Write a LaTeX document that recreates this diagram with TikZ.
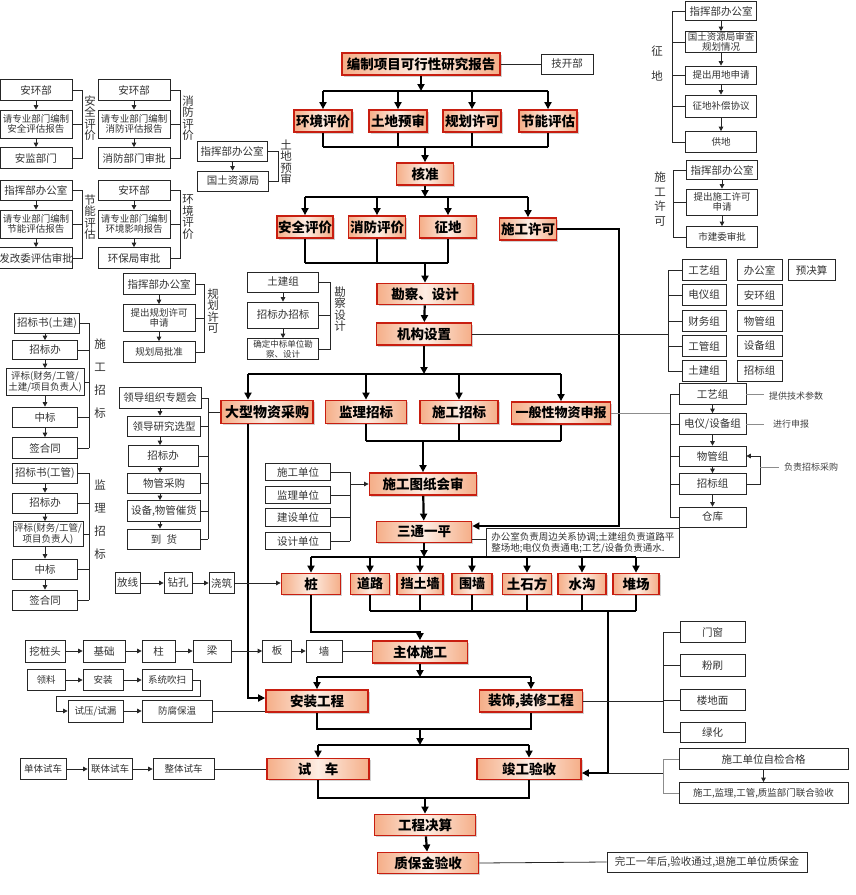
\documentclass[tikz,border=0pt]{standalone}
\usepackage{fontspec}
\setmainfont{Noto Sans CJK SC}
\usetikzlibrary{arrows.meta,shadows,calc}
\definecolor{rb}{HTML}{C81E10}
\definecolor{pkA}{HTML}{F5AE88}
\definecolor{pkB}{HTML}{FDEDE3}
\begin{document}
\begin{tikzpicture}[x=1pt,y=-1pt,
 wh/.style 2 args={minimum width=#1pt, minimum height=#2pt},
 mainbox/.style={draw=rb, line width=1.8pt, left color=pkA, right color=pkA, middle color=pkB,
   drop shadow={shadow xshift=1.5pt, shadow yshift=-1.5pt, fill=black!35},
   font=\bfseries\fontsize{13.5}{13.5}\selectfont, inner sep=0pt},
 sbox/.style={draw=black!85, line width=0.7pt, fill=white, font=\fontsize{10.5}{12}\selectfont, text=black!80, inner sep=0pt, align=center},
 tiny/.style={font=\fontsize{9.5}{10.5}\selectfont},
 tl/.style={line width=2.2pt, black},
 ta/.style={tl, -{Triangle[length=7pt,width=7pt]}},
 nl/.style={line width=0.8pt, black!85},
 na/.style={nl, -{Triangle[length=4.5pt,width=4.5pt]}},
 gl/.style={line width=0.8pt, black!45},
 vlab/.style={font=\fontsize{11.5}{11.5}\selectfont, text=black!80, align=center, inner sep=0pt},
 lab/.style={font=\fontsize{9}{10}\selectfont, text=black!75, inner sep=0pt}]
\fill[white] (0,0) rectangle (855,895);
\useasboundingbox (0,0) rectangle (855,895);

% ---------------- main column ----------------
\node[mainbox,wh={158}{22}] (kyb) at (421,64) {编制项目可行性研究报告};
\node[sbox,wh={52}{20}] (jkb) at (567,64) {技开部};
\node[mainbox,wh={58}{22}] (hjpj) at (323,121) {环境评价};
\node[mainbox,wh={58}{22}] (tdys) at (398,121) {土地预审};
\node[mainbox,wh={58}{22}] (ghxk) at (472,121) {规划许可};
\node[mainbox,wh={58}{22}] (jnpg) at (548,121) {节能评估};
\node[mainbox,wh={57}{22}] (hz) at (425,174) {核准};
\node[mainbox,wh={56}{22}] (aqpj) at (305,227) {安全评价};
\node[mainbox,wh={57}{22}] (xfpj) at (377,227) {消防评价};
\node[mainbox,wh={57}{22}] (zd) at (448,227) {征地};
\node[mainbox,wh={57}{22}] (sgxk) at (528,229) {施工许可};
\node[mainbox,wh={96}{21}] (kcsj) at (425,294) {勘察、设计};
\node[mainbox,wh={95}{22}] (jgsz) at (424,334) {机构设置};
\node[mainbox,wh={92}{23},font=\bfseries\fontsize{14}{14}\selectfont] (dxwz) at (267,412) {大型物资采购};
\node[mainbox,wh={81}{23}] (jlzb) at (366,412) {监理招标};
\node[mainbox,wh={78}{23}] (sgzb) at (459,412) {施工招标};
\node[mainbox,wh={99}{22},font=\bfseries\fontsize{13}{13}\selectfont] (ybwz) at (561,413) {一般性物资申报};
\node[mainbox,wh={107}{22}] (sgtz) at (423,484) {施工图纸会审};
\node[mainbox,wh={95}{21}] (stp) at (424,532) {三通一平};
\node[mainbox,wh={59}{21}] (zhuang) at (311,584) {桩};
\node[mainbox,wh={39}{21},font=\bfseries\fontsize{13}{13}\selectfont] (dl) at (370,584) {道路};
\node[mainbox,wh={46}{21},font=\bfseries\fontsize{13}{13}\selectfont] (dtq) at (420,584) {挡土墙};
\node[mainbox,wh={40}{21},font=\bfseries\fontsize{13}{13}\selectfont] (wq) at (472,584) {围墙};
\node[mainbox,wh={49}{21}] (tsf) at (527,584) {土石方};
\node[mainbox,wh={48}{21}] (sg) at (582,584) {水沟};
\node[mainbox,wh={46}{21}] (dc) at (636,584) {堆场};
\node[mainbox,wh={95}{22}] (ztsg) at (420,652) {主体施工};
\node[mainbox,wh={102}{22}] (azgc) at (317,701) {安装工程};
\node[mainbox,wh={103}{22}] (zsgc) at (531,701) {装饰,装修工程};
\node[mainbox,wh={102}{21}] (sc) at (318,769) {试\quad 车};
\node[mainbox,wh={104}{21}] (jgys) at (529,769) {竣工验收};
\node[mainbox,wh={101}{21}] (gcjs) at (425,825) {工程决算};
\node[mainbox,wh={101}{21}] (zbj) at (428,863) {质保金验收};
\node[sbox,wh={200}{20}] (wg) at (707,862) {完工一年后,验收通过,退施工单位质保金};
\node[sbox,tiny,wh={193}{29},align=left,anchor=west] (note) at (486,543) {办公室负责周边关系协调;土建组负责道路平\\整场地;电仪负责通电;工艺/设备负责通水.};

% ---------------- main connectors ----------------
\coordinate (bA) at (0,91);
\coordinate (bB) at (0,147);
\coordinate (bC) at (0,197);
\coordinate (bD) at (0,263);
\coordinate (bE) at (0,374);
\coordinate (bF) at (0,441);
\coordinate (bG) at (0,557);
\coordinate (bH) at (0,611);
\coordinate (bI) at (0,632);
\coordinate (bJ) at (0,677);
\coordinate (bK) at (0,729);
\coordinate (bL) at (0,745);
\coordinate (bM) at (0,798);
\draw[nl] (kyb.east) -- (jkb.west);
\draw[ta] (kyb.south) -- (kyb.south |- bA);
\draw[tl] (hjpj.north |- bA) -- (jnpg.north |- bA);
\foreach \n in {hjpj,tdys,ghxk,jnpg} {\draw[ta] (\n.north |- bA) -- (\n.north); \draw[tl] (\n.south) -- (\n.south |- bB);}
\draw[tl] (hjpj.south |- bB) -- (jnpg.south |- bB);
\draw[ta] (hz.north |- bB) -- (hz.north);
\draw[ta] (hz.south) -- (hz.south |- bC);
\draw[tl] (aqpj.north |- bC) -- (sgxk.north |- bC);
\foreach \n in {aqpj,xfpj,zd,sgxk} \draw[ta] (\n.north |- bC) -- (\n.north);
\foreach \n in {aqpj,xfpj,zd} \draw[tl] (\n.south) -- (\n.south |- bD);
\draw[tl] (aqpj.south |- bD) -- (zd.south |- bD);
\draw[ta] (kcsj.north |- bD) -- (kcsj.north);
\coordinate (c526) at (619,526);
\draw[ta] (sgxk.east) -- (sgxk.east -| c526) -- (c526) -- (c526 -| stp.east);
\draw[ta] (kcsj) -- (jgsz);
\coordinate (dxa) at (248,374);
\draw[ta] (jgsz.south) -- (jgsz.south |- bE);
\draw[tl] (dxa) -- (ybwz.north |- bE);
\draw[ta] (dxa) -- (dxa |- dxwz.north);
\foreach \n in {jlzb,sgzb,ybwz} \draw[ta] (\n.north |- bE) -- (\n.north);
\foreach \n in {jlzb,sgzb,ybwz} \draw[tl] (\n.south) -- (\n.south |- bF);
\draw[tl] (jlzb.south |- bF) -- (ybwz.south |- bF);
\draw[ta] (sgtz.north |- bF) -- (sgtz.north);
\draw[ta] (sgtz) -- (stp);
\coordinate (c539) at (0,539);
\draw[nl] (c539 -| stp.east) -- (c539 -| note.west);
\draw[ta] (stp.south) -- (stp.south |- bG);
\draw[tl] (zhuang.north |- bG) -- (dc.north |- bG);
\foreach \n in {zhuang,dl,dtq,wq,tsf,sg,dc} \draw[ta] (\n.north |- bG) -- (\n.north);
\foreach \n in {dl,dtq,wq,tsf,sg,dc} \draw[tl] (\n.south) -- (\n.south |- bH);
\draw[tl] (dl.south |- bH) -- (dc.south |- bH);
\coordinate (cv) at (608,611);
\coordinate (c773) at (608,773);
\draw[ta] (cv) -- (c773) -- (c773 -| jgys.east);
\draw[ta] (zhuang.south) -- (zhuang.south |- bI) -- (ztsg.north |- bI) -- (ztsg.north);
\draw[ta] (ztsg.south) -- (ztsg.south |- bJ);
\draw[tl] (azgc.north |- bJ) -- (zsgc.north |- bJ);
\draw[ta] (azgc.north |- bJ) -- (azgc.north);
\draw[ta] (zsgc.north |- bJ) -- (zsgc.north);
\draw[tl] (azgc.south) -- (azgc.south |- bK) -- (zsgc.south |- bK) -- (zsgc.south);
\draw[ta] (ztsg.south |- bK) -- (ztsg.south |- bL);
\draw[tl] (sc.north |- bL) -- (jgys.north |- bL);
\draw[ta] (sc.north |- bL) -- (sc.north);
\draw[ta] (jgys.north |- bL) -- (jgys.north);
\draw[tl] (sc.south) -- (sc.south |- bM) -- (jgys.south |- bM) -- (jgys.south);
\draw[ta] (gcjs.north |- bM) -- (gcjs.north);
\draw[ta] (gcjs) -- (zbj);
\draw[nl] (zbj.east) -- (wg.west);
\coordinate (c698) at (248,698);
\draw[ta] (dxa |- dxwz.south) -- (c698) -- (c698 -| azgc.west);

% ---------------- top-left groups ----------------
\node[sbox,wh={72}{21}] (a1) at (36,90) {安环部};
\node[sbox,tiny,wh={72}{28}] (a2) at (36,124) {请专业部门编制\\安全评估报告};
\node[sbox,wh={72}{21}] (a3) at (36,158) {安监部门};
\node[sbox,wh={72}{21}] (x1) at (134,90) {安环部};
\node[sbox,tiny,wh={72}{28}] (x2) at (134,124) {请专业部门编制\\消防评估报告};
\node[sbox,wh={72}{21}] (x3) at (134,158) {消防部门审批};
\node[sbox,wh={72}{20}] (j1) at (36,190) {指挥部办公室};
\node[sbox,tiny,wh={72}{28}] (j2) at (36,224) {请专业部门编制\\节能评估报告};
\node[sbox,wh={72}{21}] (j3) at (36,258) {发改委评估审批};
\node[sbox,wh={72}{20}] (h1) at (134,190) {安环部};
\node[sbox,tiny,wh={72}{28}] (h2) at (134,224) {请专业部门编制\\环境影响报告};
\node[sbox,wh={72}{21}] (h3) at (134,258) {环保局审批};
\foreach \p/\q in {a1/a2,a2/a3,x1/x2,x2/x3,j1/j2,j2/j3,h1/h2,h2/h3} \draw[na] (\p) -- (\q);
\coordinate (brA) at (82,0);
\coordinate (brB) at (180,0);
\foreach \g/\br in {a/brA,x/brB,j/brA,h/brB} {
  \draw[nl] (\g1.east) -- (\g1.east -| \br) -- (\g3.east -| \br) -- (\g3.east);
  \draw[nl] (\g2.east) -- (\g2.east -| \br);}
\node[vlab] (la) at (90,118) {安\\全\\评\\价};
\node[vlab] (lx) at (188,118) {消\\防\\评\\价};
\node[vlab] (lj) at (90,217) {节\\能\\评\\估};
\node[vlab] (lh) at (188,217) {环\\境\\评\\价};

\node[sbox,wh={70}{20}] (t1) at (232,151) {指挥部办公室};
\node[sbox,wh={71}{20}] (t2) at (233,181) {国土资源局};
\draw[na] (t1) -- (t2);
\coordinate (brT) at (278,0);
\draw[nl] (t1.east) -- (t1.east -| brT) -- (t2.east -| brT) -- (t2.east);
\node[vlab] (lt) at (286,162) {土\\地\\预\\审};

% ---------------- 规划许可 / 勘察设计 ----------------
\node[sbox,wh={72}{21}] (gh1) at (159,284) {指挥部办公室};
\node[sbox,tiny,wh={72}{27}] (gh2) at (159,318) {提出规划许可\\申请};
\node[sbox,tiny,wh={72}{21}] (gh3) at (159,352) {规划局批准};
\draw[na] (gh1) -- (gh2); \draw[na] (gh2) -- (gh3);
\coordinate (brG) at (204,0);
\draw[nl] (gh1.east) -- (gh1.east -| brG) -- (gh3.east -| brG) -- (gh3.east);
\draw[nl] (gh2.east) -- (gh2.east -| brG);
\node[vlab] (lg) at (213,311) {规\\划\\许\\可};

\node[sbox,wh={71}{20}] (kc1) at (283,282) {土建组};
\node[sbox,wh={71}{26}] (kc2) at (283,315) {招标办招标};
\node[sbox,font=\fontsize{8.5}{9.5}\selectfont,wh={71}{21}] (kc3) at (283,349) {确定中标单位勘\\察、设计};
\draw[na] (kc1) -- (kc2); \draw[na] (kc2) -- (kc3);
\coordinate (brK) at (330,0);
\draw[nl] (kc1.east) -- (kc1.east -| brK) -- (kc3.east -| brK) -- (kc3.east);
\draw[nl] (kc2.east) -- (kc2.east -| brK);
\node[vlab] (lk) at (340,309) {勘\\察\\设\\计};

% ---------------- 大型物资采购 group ----------------
\node[sbox,wh={82}{21}] (dx1) at (160,398) {领导组织专题会};
\node[sbox,wh={73}{20}] (dx2) at (164,426) {领导研究选型};
\node[sbox,wh={70}{21}] (dx3) at (163,456) {招标办};
\node[sbox,wh={73}{20}] (dx4) at (164,483) {物管采购};
\node[sbox,wh={73}{21}] (dx5) at (164,511) {设备,物管催货};
\node[sbox,wh={73}{20}] (dx6) at (164,539) {到\enspace 货};
\foreach \p/\q in {dx1/dx2,dx2/dx3,dx3/dx4,dx4/dx5,dx5/dx6} \draw[na] (\p.south -| dx1) -- (\q.north -| dx1);
\coordinate (brD) at (208,0);
\draw[nl] (dx1.east -| brD) -- (dx6.east -| brD);
\foreach \n in {dx1,dx2,dx3,dx4,dx5,dx6} \draw[nl] (\n.east) -- (\n.east -| brD);
\draw[nl] (dxwz.west -| brD) -- (dxwz.west);

% ---------------- 施工招标 / 监理招标 ----------------
\node[sbox,wh={65}{20}] (sz1) at (47,323) {招标书(土建)};
\node[sbox,wh={65}{19}] (sz2) at (45,350) {招标办};
\node[sbox,tiny,wh={78}{27}] (sz3) at (45,382) {评标(财务/工管/\\土建/项目负责人)};
\node[sbox,wh={65}{20}] (sz4) at (45,417) {中标};
\node[sbox,wh={65}{21}] (sz5) at (45,448) {签合同};
\node[sbox,wh={65}{20}] (jz1) at (45,473) {招标书(工管)};
\node[sbox,wh={65}{20}] (jz2) at (45,503) {招标办};
\node[sbox,tiny,wh={70}{25}] (jz3) at (48,534) {评标(财务/工管/\\项目负责人)};
\node[sbox,wh={65}{20}] (jz4) at (45,569) {中标};
\node[sbox,wh={65}{20}] (jz5) at (45,600) {签合同};
\foreach \g in {sz,jz} {
  \foreach \a/\b in {1/2,2/3,3/4,4/5} \draw[na] (\g\a.south -| sz2) -- (\g\b.north -| sz2);}
\coordinate (brS) at (89,0);
\draw[nl] (sz1.east -| brS) -- (sz5.east -| brS);
\foreach \n in {sz1,sz2,sz3,sz4,sz5} \draw[nl] (\n.east) -- (\n.east -| brS);
\draw[nl] (jz1.east -| brS) -- (jz5.east -| brS);
\foreach \n in {jz1,jz2,jz3,jz4,jz5} \draw[nl] (\n.east) -- (\n.east -| brS);
\node[vlab,font=\fontsize{11.5}{23}\selectfont] (ls) at (100,379) {施\\工\\招\\标};
\node[vlab,font=\fontsize{11.5}{23}\selectfont] (lm) at (100,520) {监\\理\\招\\标};

% ---------------- units -> 施工图纸会审 ----------------
\node[sbox,wh={65}{17}] (u1) at (298,472) {施工单位};
\node[sbox,wh={65}{17}] (u2) at (298,495) {监理单位};
\node[sbox,wh={65}{18}] (u3) at (298,517) {建设单位};
\node[sbox,wh={65}{17}] (u4) at (298,541) {设计单位};
\coordinate (brU) at (350,0);
\draw[nl] (u1.east -| brU) -- (u4.east -| brU);
\foreach \n in {u1,u2,u3,u4} \draw[nl] (\n.east) -- (\n.east -| brU);
\draw[na] (sgtz.west -| brU) -- (sgtz.west);

% ---------------- 征地 / 施工许可 (top right) ----------------
\node[sbox,wh={71}{19}] (zd1) at (721,11) {指挥部办公室};
\node[sbox,tiny,wh={71}{21}] (zd2) at (721,42) {国土资源局审查\\规划情况};
\node[sbox,tiny,wh={71}{18}] (zd3) at (721,75) {提出用地申请};
\node[sbox,tiny,wh={71}{22}] (zd4) at (721,106) {征地补偿协议};
\node[sbox,tiny,wh={71}{21}] (zd5) at (721,142) {供地};
\foreach \a/\b in {1/2,2/3,3/4,4/5} \draw[na] (zd\a) -- (zd\b);
\coordinate (brZ) at (672,0);
\draw[nl] (zd1.west -| brZ) -- (zd5.west -| brZ);
\foreach \n in {zd1,zd2,zd3,zd4,zd5} \draw[nl] (\n.west -| brZ) -- (\n.west);
\node[vlab,font=\fontsize{11.5}{25}\selectfont] (lz) at (657,64) {征\\地};

\node[sbox,wh={71}{19}] (sx1) at (722,170) {指挥部办公室};
\node[sbox,tiny,wh={71}{26}] (sx2) at (722,202) {提出施工许可\\申请};
\node[sbox,tiny,wh={71}{21}] (sx3) at (722,237) {市建委审批};
\draw[na] (sx1) -- (sx2); \draw[na] (sx2) -- (sx3);
\coordinate (brX) at (673,0);
\draw[nl] (sx1.west -| brX) -- (sx3.west -| brX);
\foreach \n in {sx1,sx2,sx3} \draw[nl] (\n.west -| brX) -- (\n.west);
\node[vlab,font=\fontsize{11.5}{14.5}\selectfont] (lsx) at (660,199) {施\\工\\许\\可};

% ---------------- 机构设置 groups ----------------
\node[sbox,wh={44}{21}] (o1) at (704,270) {工艺组};
\node[sbox,wh={44}{21}] (o2) at (704,295) {电仪组};
\node[sbox,wh={44}{21}] (o3) at (704,321) {财务组};
\node[sbox,wh={44}{21}] (o4) at (704,346) {工管组};
\node[sbox,wh={44}{21}] (o5) at (704,371) {土建组};
\node[sbox,wh={45}{21}] (p1) at (759.5,270) {办公室};
\node[sbox,wh={45}{21}] (p2) at (759.5,295) {安环组};
\node[sbox,wh={45}{21}] (p3) at (759.5,321) {物管组};
\node[sbox,wh={45}{21}] (p4) at (759.5,346) {设备组};
\node[sbox,wh={45}{21}] (p5) at (759.5,371) {招标组};
\node[sbox,wh={47}{21}] (q1) at (811.5,270) {预决算};
\coordinate (brO) at (668,0);
\draw[nl] (jgsz.east) -- (jgsz.east -| brO);
\draw[nl] (o1.west -| brO) -- (o5.west -| brO);
\foreach \n in {o1,o2,o3,o4,o5} \draw[nl] (\n.west -| brO) -- (\n.west);

% ---------------- 一般性物资申报 group ----------------
\node[sbox,wh={67}{21}] (g1) at (712.5,394) {工艺组};
\node[sbox,wh={67}{21}] (g2) at (712.5,424) {电仪/设备组};
\node[sbox,wh={67}{20}] (g3) at (712.5,456) {物管组};
\node[sbox,wh={67}{21}] (g4) at (712.5,484) {招标组};
\node[sbox,wh={67}{20}] (g5) at (712.5,517) {仓库};
\foreach \a/\b in {1/2,2/3,3/4,4/5} \draw[na] (g\a) -- (g\b);
\coordinate (brY) at (670,0);
\draw[gl] (ybwz.east) -- (ybwz.east -| brY);
\draw[nl] (g1.west -| brY) -- (g5.west -| brY);
\foreach \n in {g1,g2,g3,g4,g5} \draw[nl] (\n.west -| brY) -- (\n.west);
\node[lab] (lt1) at (796,396) {提供技术参数};
\node[lab] (lt2) at (791,424) {进行申报};
\node[lab] (lt3) at (811,467) {负责招标采购};
\draw[gl, shorten >=5pt] (g1.east) -- (g1.east -| lt1.west);
\draw[gl, shorten >=9pt] (g2.east) -- (g2.east -| lt2.west);
\coordinate (lp) at (760,0);
\draw[na] (g4.east) -- (g4.east -| lp) -- (g3.east -| lp) -- (g3.east);
\draw[gl, shorten >=5pt] (lp |- lt3.west) -- (lt3.west);

% ---------------- 桩 row ----------------
\node[sbox,wh={25}{21}] (fx) at (127.5,583) {放线};
\node[sbox,wh={28}{21}] (zk) at (178,583) {钻孔};
\node[sbox,wh={25}{21}] (jzh) at (221.5,583) {浇筑};
\draw[na] (fx) -- (zk); \draw[na] (zk) -- (jzh);
\draw[na] (jzh.east) -- (jzh.east -| zhuang.west);

% ---------------- 主体 rows ----------------
\node[sbox,wh={40}{22}] (wzt) at (45,651) {挖桩头};
\node[sbox,wh={42}{22}] (jc) at (104,651) {基础};
\node[sbox,wh={33}{22}] (zhu) at (158.5,651) {柱};
\node[sbox,wh={38}{22}] (liang) at (212,651) {梁};
\node[sbox,wh={29}{22}] (ban) at (277,651) {板};
\node[sbox,wh={36}{22}] (qiang) at (324,651) {墙};
\foreach \p/\q in {wzt/jc,jc/zhu,zhu/liang,liang/ban,ban/qiang} \draw[na] (\p) -- (\q);
\draw[nl] (qiang.east) -- (qiang.east -| ztsg.west);

\node[sbox,tiny,wh={38}{21}] (ll) at (46,680) {领料};
\node[sbox,tiny,wh={40}{21}] (az) at (103,680) {安装};
\node[sbox,tiny,wh={50}{21}] (xtcs) at (167,680) {系统吹扫};
\node[sbox,tiny,wh={55}{22}] (sy) at (95.5,711) {试压/试漏};
\node[sbox,tiny,wh={70}{22}] (ffbw) at (177,711) {防腐保温};
\draw[na] (ll) -- (az); \draw[na] (az) -- (xtcs);
\coordinate (w1) at (200,696);
\coordinate (w2) at (56,696);
\draw[na] (xtcs.east) -- (xtcs.east -| w1) -- (w1) -- (w2) -- (w2 |- sy.west) -- (sy.west);
\draw[na] (sy) -- (ffbw);
\draw[nl] (ffbw.east) -- (ffbw.east -| azgc.west);

% ---------------- 装饰 group ----------------
\node[sbox,wh={65}{21}] (mc) at (712.5,632) {门窗};
\node[sbox,wh={65}{22}] (fs) at (712.5,665) {粉刷};
\node[sbox,wh={65}{21}] (ldm) at (712.5,700) {楼地面};
\node[sbox,wh={65}{20}] (lhua) at (712.5,732) {绿化};
\coordinate (brM) at (663,0);
\draw[nl] (zsgc.east) -- (zsgc.east -| brM);
\draw[nl] (mc.west -| brM) -- (lhua.west -| brM);
\foreach \n in {mc,fs,ldm,lhua} \draw[nl] (\n.west -| brM) -- (\n.west);

% ---------------- 试车 row ----------------
\node[sbox,tiny,wh={46}{21}] (dtsc) at (43,769) {单体试车};
\node[sbox,tiny,wh={44}{21}] (ltsc) at (110,769) {联体试车};
\node[sbox,tiny,wh={61}{21}] (ztsc) at (183.5,769) {整体试车};
\draw[na] (dtsc) -- (ltsc); \draw[na] (ltsc) -- (ztsc);
\draw[nl] (ztsc.east) -- (ztsc.east -| sc.west);

% ---------------- 竣工验收 group ----------------
\node[sbox,wh={169}{21}] (zj1) at (763.5,759) {施工单位自检合格};
\node[sbox,tiny,wh={169}{21}] (zj2) at (763.5,793) {施工,监理,工管,质监部门联合验收};
\draw[na] (zj1) -- (zj2);
\coordinate (brJ) at (663,0);
\draw[nl] (c773) -- (c773 -| brJ);
\draw[gl] (zj1.west -| brJ) -- (zj2.west -| brJ);
\foreach \n in {zj1,zj2} \draw[gl] (\n.west -| brJ) -- (\n.west);
\end{tikzpicture}
\end{document}
